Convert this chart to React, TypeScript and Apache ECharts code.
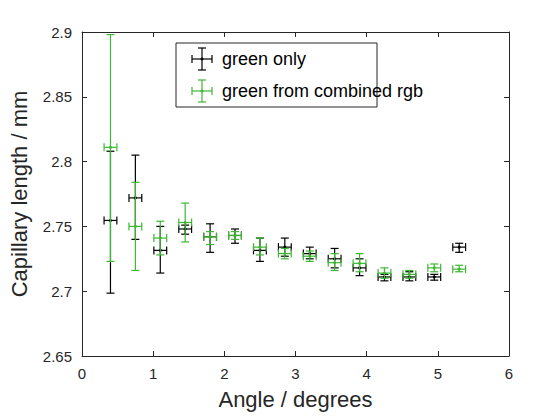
import React, { useEffect, useRef } from "react";
import * as echarts from "echarts";

const angles = [0.4, 0.75, 1.1, 1.45, 1.8, 2.15, 2.5, 2.85, 3.2, 3.55, 3.9, 4.25, 4.6, 4.95, 5.3];
const xErr = 0.09;
const blackY = [2.7546, 2.772, 2.7315, 2.748, 2.742, 2.743, 2.7315, 2.734, 2.729, 2.725, 2.718, 2.711, 2.711, 2.711, 2.734];
const blackLo = [2.6985, 2.74, 2.714, 2.744, 2.73, 2.737, 2.723, 2.727, 2.725, 2.718, 2.712, 2.708, 2.708, 2.7085, 2.730];
const blackHi = [2.808, 2.805, 2.75, 2.751, 2.752, 2.748, 2.741, 2.741, 2.734, 2.733, 2.725, 2.713, 2.715, 2.713, 2.737];
const greenY = [2.811, 2.75, 2.741, 2.753, 2.742, 2.743, 2.734, 2.729, 2.727, 2.722, 2.7215, 2.714, 2.713, 2.718, 2.717];
const greenLo = [2.723, 2.716, 2.728, 2.738, 2.736, 2.740, 2.728, 2.725, 2.723, 2.716, 2.715, 2.71, 2.71, 2.715, 2.715];
const greenHi = [2.898, 2.784, 2.754, 2.768, 2.746, 2.746, 2.741, 2.733, 2.731, 2.729, 2.729, 2.718, 2.716, 2.721, 2.72];

const BLACK = "#000000";
const GREEN = "#3cb832";
const FONT = "Liberation Sans, Arial, sans-serif";

function errSeries(name: string, color: string, ys: number[], lo: number[], hi: number[]) {
  return {
    name,
    type: "custom",
    data: angles.map((x, i) => [x, ys[i], lo[i], hi[i]]),
    renderItem: (_p: any, api: any) => {
      const x = api.value(0), y = api.value(1), l = api.value(2), h = api.value(3);
      const c = api.coord([x, y]);
      const cl = api.coord([x, l]);
      const ch = api.coord([x, h]);
      const cx1 = api.coord([x - xErr, y]);
      const cx2 = api.coord([x + xErr, y]);
      const cap = 4;
      const st = { stroke: color, lineWidth: 1.2 };
      const ln = (x1: number, y1: number, x2: number, y2: number) => ({ type: "line", shape: { x1, y1, x2, y2 }, style: st });
      return {
        type: "group",
        children: [
          ln(c[0], cl[1], c[0], ch[1]),
          ln(c[0] - cap, cl[1], c[0] + cap, cl[1]),
          ln(c[0] - cap, ch[1], c[0] + cap, ch[1]),
          ln(cx1[0], c[1], cx2[0], c[1]),
          ln(cx1[0], c[1] - cap, cx1[0], c[1] + cap),
          ln(cx2[0], c[1] - cap, cx2[0], c[1] + cap),
          { type: "circle", shape: { cx: c[0], cy: c[1], r: 1.5 }, style: { fill: color } },
        ],
      };
    },
    z: 5,
  };
}

function legendItem(y: number, color: string, label: string) {
  const cx = 202, st = { stroke: color, lineWidth: 1.2 };
  const ln = (x1: number, y1: number, x2: number, y2: number) => ({ type: "line", z: 20, shape: { x1, y1, x2, y2 }, style: st });
  return [
    ln(cx, y - 11, cx, y + 11),
    ln(cx - 4, y - 11, cx + 4, y - 11),
    ln(cx - 4, y + 11, cx + 4, y + 11),
    ln(cx - 10, y, cx + 10, y),
    ln(cx - 10, y - 4, cx - 10, y + 4),
    ln(cx + 10, y - 4, cx + 10, y + 4),
    { type: "circle", z: 20, shape: { cx, cy: y, r: 1.5 }, style: { fill: color } },
    { type: "text", z: 20, x: 222, y, style: { text: label, font: `18px ${FONT}`, fill: "#000", verticalAlign: "middle" } },
  ];
}

export default function App() {
  const ref = useRef<HTMLDivElement>(null);
  useEffect(() => {
    const chart = echarts.init(ref.current!, null, { renderer: "svg" });
    const axisCommon = {
      axisLine: { show: true, onZero: false, lineStyle: { color: "#262626", width: 1 } },
      axisTick: { show: true, inside: true, length: 5, lineStyle: { color: "#262626" } },
      splitLine: { show: false },
    };
    chart.setOption({
      animation: false,
      backgroundColor: "#fff",
      grid: { left: 80, right: 51, top: 32, bottom: 64 },
      xAxis: [
        {
          type: "value", min: 0, max: 6, interval: 1, ...axisCommon,
          axisLabel: { color: "#262626", fontSize: 15, fontFamily: FONT, margin: 10 },
          name: "Angle / degrees", nameLocation: "middle", nameGap: 32,
          nameTextStyle: { color: "#262626", fontSize: 22, fontFamily: FONT },
        },
        { type: "value", min: 0, max: 6, interval: 1, position: "top", ...axisCommon, axisLabel: { show: false } },
      ],
      yAxis: [
        {
          type: "value", min: 2.65, max: 2.9, interval: 0.05, ...axisCommon,
          axisLabel: { color: "#262626", fontSize: 15, fontFamily: FONT, margin: 10, formatter: (v: number) => String(+v.toFixed(2)) },
          name: "Capillary length / mm", nameLocation: "middle", nameGap: 52,
          nameTextStyle: { color: "#262626", fontSize: 22, fontFamily: FONT },
        },
        { type: "value", min: 2.65, max: 2.9, interval: 0.05, position: "right", ...axisCommon, axisLabel: { show: false } },
      ],
      series: [
        errSeries("green only", BLACK, blackY, blackLo, blackHi),
        errSeries("green from combined rgb", GREEN, greenY, greenLo, greenHi),
      ],
      graphic: [
        { type: "rect", z: 10, shape: { x: 176, y: 43, width: 201, height: 64 }, style: { fill: "#fff", stroke: "#262626", lineWidth: 1 } },
        ...legendItem(59, BLACK, "green only"),
        ...legendItem(91, GREEN, "green from combined rgb"),
      ],
    });
    return () => chart.dispose();
  }, []);
  return <div ref={ref} style={{ position: "absolute", left: 0, top: 0, width: 560, height: 420 }} />;
}
